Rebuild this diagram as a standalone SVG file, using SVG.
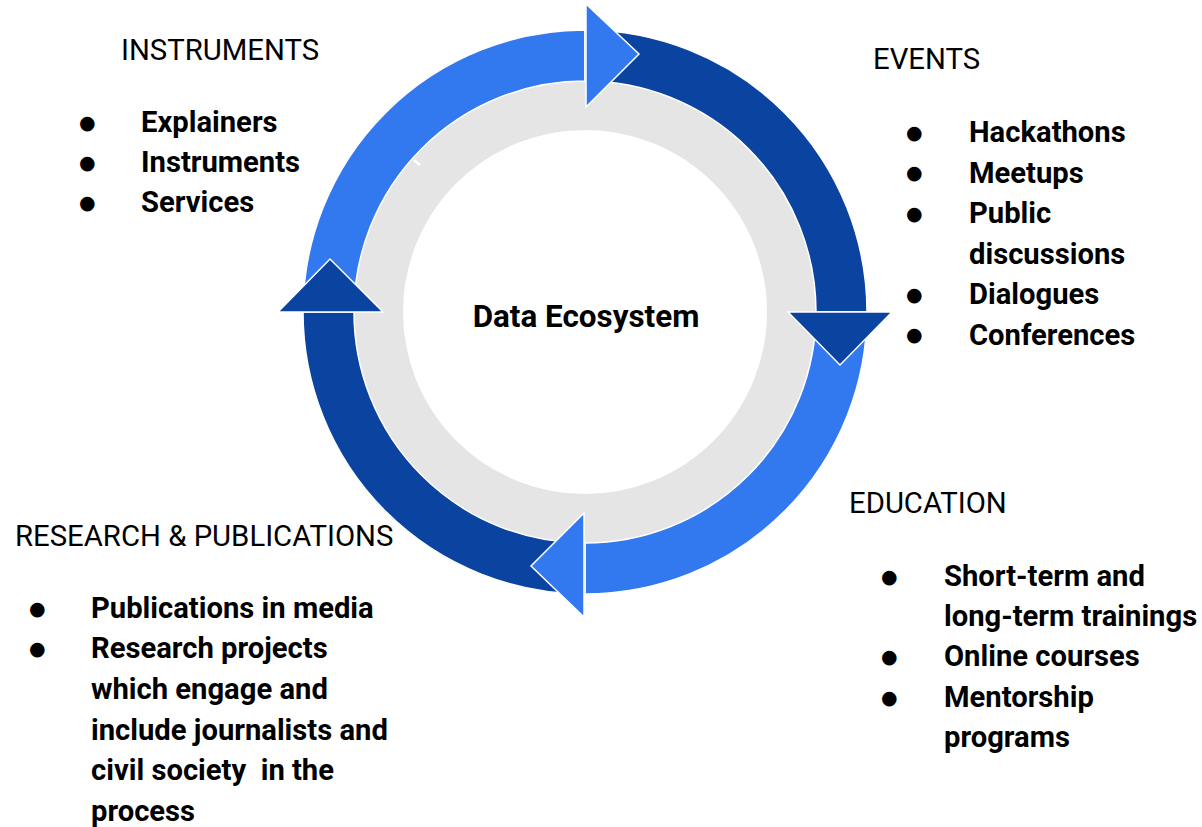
<svg xmlns="http://www.w3.org/2000/svg" width="1202" height="827" viewBox="0 0 1202 827">
<style>
.h{font-family:Roboto,"Liberation Sans",sans-serif;font-size:29.3px;fill:#000}
.b{font-family:Roboto,"Liberation Sans",sans-serif;font-size:29.2px;font-weight:bold;fill:#000}
.c{font-family:Roboto,"Liberation Sans",sans-serif;font-size:31.4px;font-weight:bold;fill:#000}
.d{font-family:"DejaVu Sans",sans-serif;font-size:19px;fill:#000}
.light{fill:#3279ef;stroke:#fff;stroke-width:1.5}
.dark{fill:#0b44a0;stroke:#fff;stroke-width:1.5}
</style>
<rect width="1202" height="827" fill="#fff"/>
<g id="ring">
<circle cx="585" cy="312" r="206.5" fill="none" stroke="#e5e5e5" stroke-width="49"/>
<path class="light" d="M303 312 A282 282 0 0 1 585 30 L585 81 A231 231 0 0 0 354 312 Z"/>
<path class="dark" d="M585 30 A282 282 0 0 1 867 312 L816 312 A231 231 0 0 0 585 81 Z"/>
<path class="light" d="M867 312 A282 282 0 0 1 585 594 L585 543 A231 231 0 0 0 816 312 Z"/>
<path class="dark" d="M585 594 A282 282 0 0 1 303 312 L354 312 A231 231 0 0 0 585 543 Z"/>
<line x1="414" y1="160" x2="420" y2="165" stroke="#fff" stroke-width="2.5"/>
</g>
<g id="connectors">
<polygon class="light" stroke-width="2" points="586,4 639,54 586,107"/>
<polygon class="dark" stroke-width="2" points="788,312 892,312 840,365"/>
<polygon class="light" stroke-width="2" points="584,513 531,566 584,617"/>
<polygon class="dark" stroke-width="2" points="278,312 383,312 330,259"/>
</g>
<g id="center">
<text class="c" x="586" y="327" text-anchor="middle">Data Ecosystem</text>
</g>
<g id="instruments">
<text class="h" x="121" y="60">INSTRUMENTS</text>
<text class="d" x="79" y="129">●</text><text class="b" x="141" y="132">Explainers</text>
<text class="d" x="79" y="169">●</text><text class="b" x="141" y="172">Instruments</text>
<text class="d" x="79" y="209">●</text><text class="b" x="141" y="212">Services</text>
</g>
<g id="events">
<text class="h" x="873" y="69">EVENTS</text>
<text class="d" x="906" y="139">●</text><text class="b" x="969" y="142">Hackathons</text>
<text class="d" x="906" y="179">●</text><text class="b" x="969" y="182.5">Meetups</text>
<text class="d" x="906" y="220">●</text><text class="b" x="969" y="223">Public</text>
<text class="b" x="969" y="263.5">discussions</text>
<text class="d" x="906" y="301">●</text><text class="b" x="969" y="304">Dialogues</text>
<text class="d" x="906" y="341">●</text><text class="b" x="969" y="344.5">Conferences</text>
</g>
<g id="education">
<text class="h" x="849" y="513">EDUCATION</text>
<text class="d" x="881" y="583">●</text><text class="b" x="944" y="585.5">Short-term and</text>
<text class="b" x="944" y="626">long-term trainings</text>
<text class="d" x="881" y="663">●</text><text class="b" x="944" y="666">Online courses</text>
<text class="d" x="881" y="704">●</text><text class="b" x="944" y="706.5">Mentorship</text>
<text class="b" x="944" y="747">programs</text>
</g>
<g id="research">
<text class="h" x="15" y="546">RESEARCH &amp; PUBLICATIONS</text>
<text class="d" x="29" y="615">●</text><text class="b" x="91" y="617.5">Publications in media</text>
<text class="d" x="29" y="655">●</text><text class="b" x="91" y="658">Research projects</text>
<text class="b" x="91" y="699">which engage and</text>
<text class="b" x="91" y="740">include journalists and</text>
<text class="b" x="91" y="780" xml:space="preserve">civil society  in the</text>
<text class="b" x="91" y="821">process</text>
</g>
</svg>
